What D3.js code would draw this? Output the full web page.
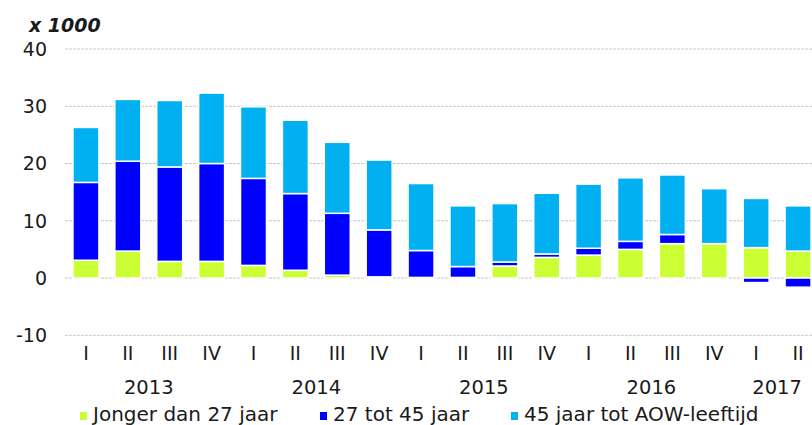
<!DOCTYPE html>
<html>
<head>
<meta charset="utf-8">
<script src="https://cdn.jsdelivr.net/npm/d3@7"></script>
<style>
  body { margin: 0; background: #fff; }
  text { font-family: "DejaVu Sans", Verdana, sans-serif; fill: #1a1a1a; }
</style>
</head>
<body>
<div id="chart"></div>
<script>
// quarters 2013 I .. 2017 II (x 1000)
const quarters = ["I","II","III","IV","I","II","III","IV","I","II","III","IV","I","II","III","IV","I","II"];
const years    = ["2013","2013","2013","2013","2014","2014","2014","2014","2015","2015","2015","2015","2016","2016","2016","2016","2017","2017"];
const jonger   = [3.1, 4.7, 2.9, 2.9, 2.2, 1.35, 0.5, 0.2, 0.1, 0.1, 2.1, 3.6, 4.0, 5.0, 6.0, 6.0, 5.3, 4.7];
const mid      = [13.6, 15.7, 16.5, 17.1, 15.2, 13.4, 10.8, 8.2, 4.7, 1.9, 0.7, 0.6, 1.2, 1.4, 1.6, 0.0, -0.8, -1.6];
const ouder    = [9.6, 10.8, 11.6, 12.3, 12.5, 12.8, 12.4, 12.2, 11.7, 10.6, 10.2, 10.6, 11.2, 11.1, 10.4, 9.6, 8.6, 7.9];
const yTicks   = [-10, 0, 10, 20, 30, 40];
const seriesNames = ["Jonger dan 27 jaar", "27 tot 45 jaar", "45 jaar tot AOW-leeftijd"];
const colors = ["#ccff33", "#0000ff", "#00b0f0"];

const W = 812, H = 425;
const svg = d3.select("#chart").append("svg")
    .attr("width", W)
    .attr("height", H);

const rows = quarters.map((q, i) => ({ i: i, k0: jonger[i], k1: mid[i], k2: ouder[i] }));
const keys = ["k0", "k1", "k2"];

const x = d3.scaleBand()
    .domain(d3.range(quarters.length))
    .range([65, 819])
    .paddingInner(0.38)
    .paddingOuter(0.19);

const y = d3.scaleLinear()
    .domain([-10, 40])
    .range([335.25, 49]);

// gridlines
svg.append("g")
  .selectAll("line")
  .data(yTicks)
  .join("line")
    .attr("x1", 65)
    .attr("x2", W)
    .attr("y1", d => y(d))
    .attr("y2", d => y(d))
    .attr("stroke", "#c8c8c8")
    .attr("stroke-width", 1)
    .attr("stroke-dasharray", "3,1");

// y labels
svg.append("g")
  .selectAll("text")
  .data(yTicks)
  .join("text")
    .attr("x", 47)
    .attr("y", d => y(d))
    .attr("dy", "0.36em")
    .attr("text-anchor", "end")
    .style("font-size", "19px")
    .text(d => d);

svg.append("text")
    .attr("x", 29)
    .attr("y", 32)
    .style("font-size", "19px")
    .style("font-weight", "bold")
    .style("font-style", "italic")
    .text("x 1000");

// stacked bars
const stack = d3.stack().keys(keys).offset(d3.stackOffsetDiverging);
const layers = stack(rows);

svg.append("g")
  .selectAll("g")
  .data(layers)
  .join("g")
    .attr("fill", (d, i) => colors[i])
  .selectAll("rect")
  .data(d => d)
  .join("rect")
    .attr("x", d => x(d.data.i))
    .attr("width", x.bandwidth())
    .attr("y", d => y(Math.max(d[0], d[1])))
    .attr("height", d => Math.abs(y(d[0]) - y(d[1])))
    .attr("stroke", "#fff")
    .attr("stroke-width", 1.5);

// quarter labels
svg.append("g")
  .selectAll("text")
  .data(quarters)
  .join("text")
    .attr("x", (d, i) => x(i) + x.bandwidth() / 2)
    .attr("y", 360)
    .attr("text-anchor", "middle")
    .style("font-size", "19px")
    .text(d => d);

// year labels, centred under their quarters
const yearGroups = d3.groups(rows, d => years[d.i]);
svg.append("g")
  .selectAll("text")
  .data(yearGroups)
  .join("text")
    .attr("x", d => {
      const first = d[1][0].i, last = d[1][d[1].length - 1].i;
      return (x(first) + x(last) + x.bandwidth()) / 2;
    })
    .attr("y", 394)
    .attr("text-anchor", "middle")
    .style("font-size", "19.5px")
    .text(d => d[0]);

// legend
const legendX = [80, 320, 511];
const legend = svg.append("g")
  .selectAll("g")
  .data(seriesNames)
  .join("g")
    .attr("transform", (d, i) => `translate(${legendX[i]},0)`);

legend.append("rect")
    .attr("x", 0)
    .attr("y", 412)
    .attr("width", 7)
    .attr("height", 8)
    .attr("fill", (d, i) => colors[i]);

legend.append("text")
    .attr("x", 13)
    .attr("y", 421)
    .style("font-size", "20px")
    .text(d => d);
</script>
</body>
</html>
